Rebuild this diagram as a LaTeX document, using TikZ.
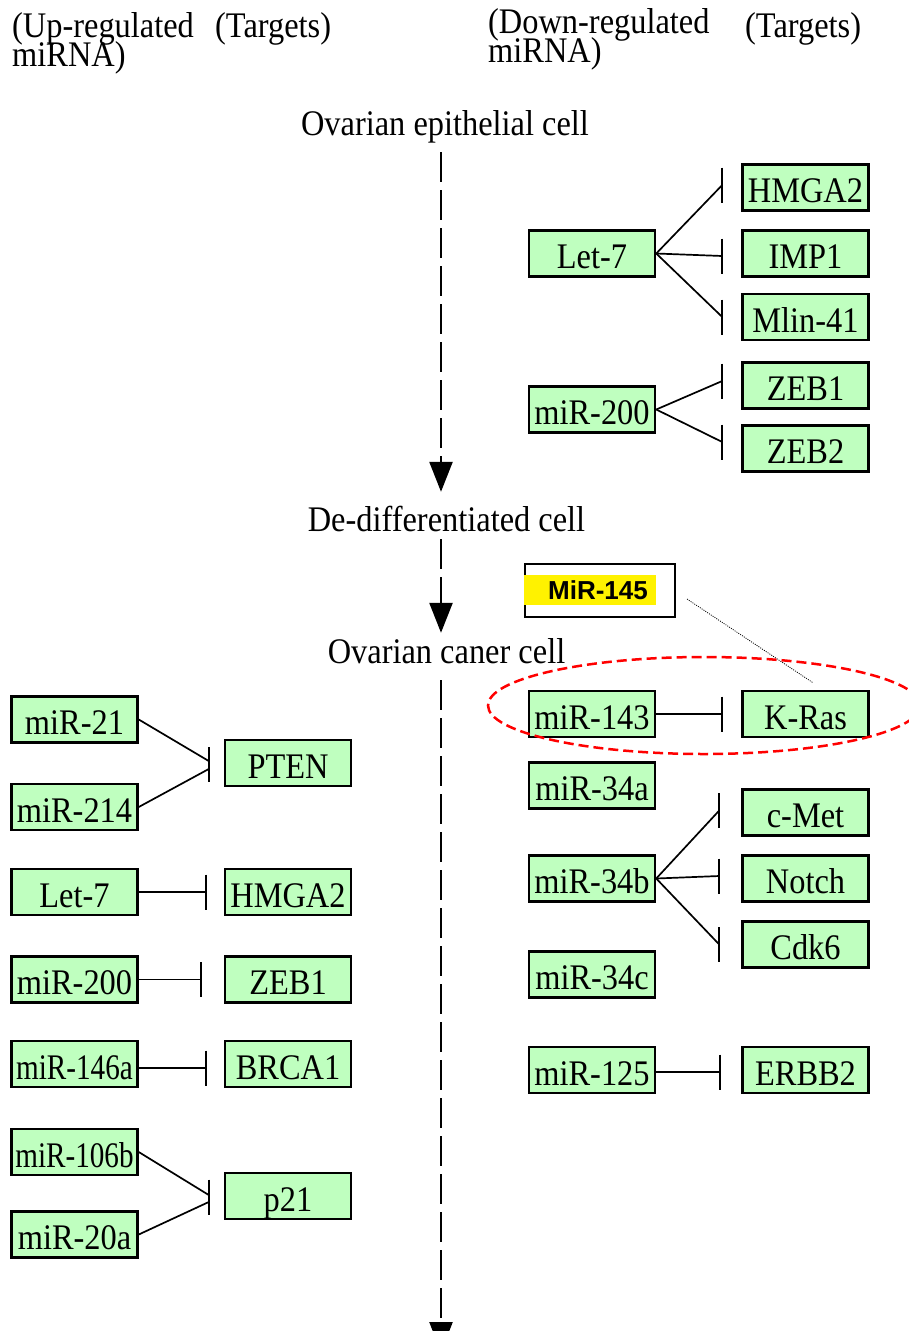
\documentclass[tikz,border=0pt]{standalone}
\usepackage{fontspec}
\usetikzlibrary{arrows.meta,calc}
\newfontfamily\labelfont[FakeStretch=0.9]{Liberation Serif}
\newfontfamily\calloutfont{Liberation Sans}
\definecolor{boxgreen}{RGB}{191,255,191}
% heading font with tight, fixed line spacing
\newcommand\headingfont{\labelfont\fontsize{36}{29}\selectfont\lineskiplimit=-100pt\relax}
% vertical inhibition bar centred on a coordinate
\newcommand\stopbar[1]{\draw[barline] ($(#1)+(0,-17.5)$) -- ($(#1)+(0,17.5)$);}

\begin{document}
\begin{tikzpicture}[x=1pt,y=-1pt,
  every node/.style={inner sep=0pt},
  gene/.style={draw=black, line width=2.5pt, fill=boxgreen,
    minimum width=126pt, minimum height=46pt,
    text height=30pt, text depth=0pt,
    font=\labelfont\fontsize{36}{36}\selectfont},
  caption/.style={font=\headingfont, align=left, anchor=north west},
  stage/.style={font=\labelfont\fontsize{36}{36}\selectfont,
    text height=25pt, text depth=8pt, anchor=base},
  fanline/.style={line width=1.7pt},
  barline/.style={line width=2.4pt},
  trunk/.style={line width=2.4pt, dash pattern=on 30pt off 8pt,
    -{Triangle[width=23pt,length=30pt]}},
  leader/.style={line width=0.8pt, dash pattern=on 1pt off 1.2pt},
  focus/.style={draw=red, line width=2.5pt, dash pattern=on 10pt off 5pt}
]
\path[use as bounding box, fill=white] (0,0) rectangle (909,1331);

% column headings
\node[caption] (uphead)   at (12,12)  {(Up-regulated\\miRNA)};
\node[caption] (uptarg)   at (215,12) {(Targets)};
\node[caption] (downhead) at (488,8)  {(Down-regulated\\miRNA)};
\node[caption] (downtarg) at (745,12) {(Targets)};

% stages of the progression
\node[stage] (epi)    at (445,135)   {Ovarian epithelial cell};
\node[stage] (dediff) at (446.5,531) {De-differentiated cell};
\node[stage] (caner)  at (446.5,663) {Ovarian caner cell};
\coordinate (axis) at (441,0);
\coordinate (bottom) at (441,1352);

\draw[trunk] ($(axis |- epi.south)+(0,9)$) -- ($(axis |- dediff.north)+(0,-14)$);
\draw[trunk] ($(axis |- dediff.south)+(0,0)$) -- ($(axis |- caner.north)+(0,-5)$);
\draw[trunk] ($(axis |- caner.south)+(0,9)$) -- (bottom);

% down-regulated miRNAs, epithelial stage
\node[gene] (let7r)   at (592,253.5)   {Let-7};
\node[gene] (mir200r) at (592,409.5)   {miR-200};
\node[gene] (hmga2r)  at (805.5,187.5) {HMGA2};
\node[gene] (imp1)    at (805.5,253.5) {IMP1};
\node[gene] (mlin)    at (805.5,317)   {Mlin-41};
\node[gene] (zeb1r)   at (805.5,385.5) {ZEB1};
\node[gene] (zeb2r)   at (805.5,448.5) {ZEB2};

\coordinate (hmga2r-in) at ($(hmga2r.west)+(-19,-2.5)$);
\coordinate (imp1-in)   at ($(imp1.west)+(-19,2.5)$);
\coordinate (mlin-in)   at ($(mlin.west)+(-19,0)$);
\coordinate (zeb1r-in)  at ($(zeb1r.west)+(-19,-4.5)$);
\coordinate (zeb2r-in)  at ($(zeb2r.west)+(-19,-6.5)$);
\draw[fanline] (let7r.east) -- (hmga2r-in);
\draw[fanline] (let7r.east) -- (imp1-in);
\draw[fanline] (let7r.east) -- (mlin-in);
\draw[fanline] (mir200r.east) -- (zeb1r-in);
\draw[fanline] (mir200r.east) -- (zeb2r-in);
\stopbar{hmga2r-in}\stopbar{imp1-in}\stopbar{mlin-in}
\stopbar{zeb1r-in}\stopbar{zeb2r-in}

% down-regulated miRNAs, cancer stage
\node[gene] (m143)  at (592,714)    {miR-143};
\node[gene] (kras)  at (805.5,714)  {K-Ras};
\node[gene] (m34a)  at (592,785.5)  {miR-34a};
\node[gene] (m34b)  at (592,878.5)  {miR-34b};
\node[gene] (cmet)  at (805.5,812.5){c-Met};
\node[gene] (notch) at (805.5,878.5){Notch};
\node[gene] (cdk6)  at (805.5,944.5){Cdk6};
\node[gene] (m34c)  at (592,974.5)  {miR-34c};
\node[gene] (m125)  at (592,1070)   {miR-125};
\node[gene] (erbb2) at (805.5,1070) {ERBB2};

\coordinate (kras-in)  at ($(kras.west)+(-19,0)$);
\coordinate (cmet-in)  at ($(cmet.west)+(-22,-2)$);
\coordinate (notch-in) at ($(notch.west)+(-22,-2.5)$);
\coordinate (cdk6-in)  at ($(cdk6.west)+(-22,0)$);
\coordinate (erbb2-in) at ($(erbb2.west)+(-21,2)$);
\draw[fanline] (m143.east) -- (kras-in);
\draw[fanline] (m34b.east) -- (cmet-in);
\draw[fanline] (m34b.east) -- (notch-in);
\draw[fanline] (m34b.east) -- (cdk6-in);
\draw[fanline] ($(m125.east)+(0,2)$) -- (erbb2-in);
\stopbar{kras-in}\stopbar{cmet-in}\stopbar{notch-in}
\stopbar{cdk6-in}\stopbar{erbb2-in}

% up-regulated miRNAs, cancer stage
\node[gene] (m21)    at (74.5,719.5) {miR-21};
\node[gene] (m214)   at (74.5,807)   {miR-214};
\node[gene] (pten)   at (288,763)    {PTEN};
\node[gene] (let7l)  at (74.5,892)   {Let-7};
\node[gene] (hmga2l) at (288,892)    {HMGA2};
\node[gene] (m200l)  at (74.5,979.5) {miR-200};
\node[gene] (zeb1l)  at (288,979.5)  {ZEB1};
\node[gene] (m146)   at (74.5,1064)  {\scalebox{0.9}[1]{miR-146a}};
\node[gene] (brca1)  at (288,1064)   {BRCA1};
\node[gene] (m106)   at (74.5,1152)  {\scalebox{0.9}[1]{miR-106b}};
\node[gene] (m20a)   at (74.5,1234.5){miR-20a};
\node[gene] (p21)    at (288,1196)   {p21};

\coordinate (pten-in)   at ($(pten.west)+(-15,1.5)$);
\coordinate (hmga2l-in) at ($(hmga2l.west)+(-18,0)$);
\coordinate (zeb1l-in)  at ($(zeb1l.west)+(-23,0)$);
\coordinate (brca1-in)  at ($(brca1.west)+(-18,4)$);
\coordinate (p21-in)    at ($(p21.west)+(-15,1)$);
\draw[fanline] (m21.east)  -- ($(pten-in)+(0,-3.5)$);
\draw[fanline] (m214.east) -- ($(pten-in)+(0,4.5)$);
\draw[fanline] (let7l.east) -- (hmga2l-in);
\draw[fanline] (m200l.east) -- (zeb1l-in);
\draw[fanline] ($(m146.east)+(0,4)$) -- (brca1-in);
\draw[fanline] (m106.east) -- ($(p21-in)+(0,-2)$);
\draw[fanline] (m20a.east) -- ($(p21-in)+(0,5)$);
\stopbar{pten-in}\stopbar{hmga2l-in}\stopbar{zeb1l-in}
\stopbar{brca1-in}\stopbar{p21-in}

% MiR-145 call-out and highlighted K-Ras interaction
\node[draw=black, line width=2pt, fill=white,
      minimum width=150pt, minimum height=53pt] (callout) at (600,590.5) {};
\node[fill=yellow, minimum width=132pt, minimum height=30pt,
      text height=19pt, text depth=0pt,
      font=\calloutfont\bfseries\fontsize{26}{26}\selectfont]
      (m145) at (590,590) {\hspace*{16pt}MiR-145};
\draw[leader] ($(callout.east)+(11,8.5)$) -- ($(kras.north)+(7.5,-7)$);
\draw[focus] (704,705.5) ellipse [x radius=216, y radius=48.5];
\end{tikzpicture}
\end{document}
